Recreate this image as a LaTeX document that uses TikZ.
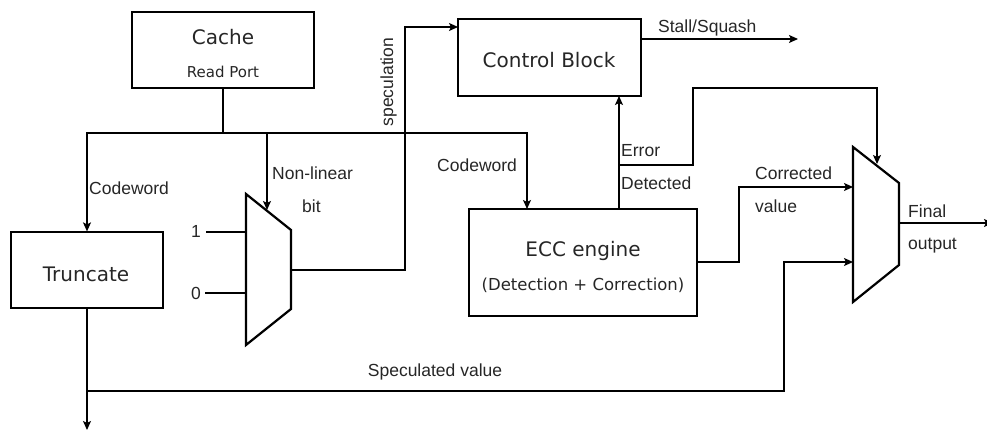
\documentclass[tikz,border=0pt]{standalone}
\usepackage{fontspec}
\newfontfamily\boxfont{DejaVu Sans}
\newfontfamily\lblfont{Liberation Sans}
\usetikzlibrary{arrows.meta,calc}
\tikzset{
  blk/.style={draw=black, line width=1.2pt, rectangle, inner sep=0pt},
  tb/.style={inner sep=0pt, text=black!85, font=\boxfont\fontsize{20}{24}\selectfont},
  tsub/.style={inner sep=0pt, text=black!85, font=\boxfont\fontsize{15}{18}\selectfont},
  tsubb/.style={inner sep=0pt, text=black!85, font=\boxfont\fontsize{16.5}{20}\selectfont},
  lbl/.style={inner sep=0pt, text=black!85, font=\lblfont\fontsize{17.5}{21}\selectfont},
  wire/.style={line width=1.2pt, draw=black},
  muxline/.style={line width=2.2pt, draw=black, line join=miter},
}
\begin{document}
\begin{tikzpicture}[x=1pt,y=-1pt, >={Stealth[length=9pt,width=8pt,inset=2pt]}]
\useasboundingbox (0,0) rectangle (987,438);
% boxes
\node[blk, minimum width=182pt, minimum height=76pt] (cache) at (223,50) {};
\node[blk, minimum width=183pt, minimum height=77pt] (ctrl) at (549.5,57.5) {};
\node[blk, minimum width=152pt, minimum height=76pt] (trunc) at (87,270) {};
\node[blk, minimum width=228pt, minimum height=107pt] (ecc) at (583,262.5) {};
% box texts
\node[tb, anchor=base] (tcache) at (223,45) {Cache};
\node[tsub, anchor=base] (tread) at (223,78) {Read Port};
\node[tb, anchor=base] (tctrl) at (549,68) {Control Block};
\node[tb, anchor=base] (ttrunc) at (86,281) {Truncate};
\node[tb, anchor=base] (tecc) at (583,257) {ECC engine};
\node[tsubb, anchor=base] (tdet) at (583,290) {(Detection + Correction)};
% mux 1
\coordinate (m1tl) at (246,194);
\coordinate (m1tr) at (291,230);
\coordinate (m1br) at (291,309);
\coordinate (m1bl) at (246,345);
\draw[muxline] (m1tl) -- (m1tr) -- (m1br) -- (m1bl) -- cycle;
\coordinate (m1sel) at (267,210);
\coordinate (m1i1) at (246,232);
\coordinate (m1i0) at (246,293);
\coordinate (m1o) at (291,270);
\coordinate (in1) at (206,232);
\coordinate (in0) at (205,293);
% mux 2
\coordinate (m2tl) at (853,147);
\coordinate (m2tr) at (899,183);
\coordinate (m2br) at (899,265);
\coordinate (m2bl) at (853,302);
\draw[muxline] (m2tl) -- (m2tr) -- (m2br) -- (m2bl) -- cycle;
\coordinate (m2sel) at (877,164);
\coordinate (m2i1) at (853,187);
\coordinate (m2i2) at (853,262);
\coordinate (m2o) at (899,223);
\coordinate (outend) at (993,223);
% junctions and ports
\coordinate (j1) at (223,133);
\coordinate (nl) at (267,133);
\coordinate (eccin) at (527,209);
\coordinate (ctrlin) at (458,27);
\coordinate (stallA) at (641,39);
\coordinate (stallB) at (798,39);
\coordinate (errA) at (619,209);
\coordinate (errB) at (619,96);
\coordinate (eb) at (619,165);
\coordinate (corrA) at (697,262);
\coordinate (spj) at (87,391);
\coordinate (truncout) at (87,430);
% wires
\draw[wire] (cache.south) -- (j1);
\draw[wire,->] (j1) -| (trunc.north);
\draw[wire,->] (j1) -| (eccin);
\draw[wire,->] (nl) -- (m1sel);
\draw[wire] (in1) -- (m1i1);
\draw[wire] (in0) -- (m1i0);
\draw[wire,->] (m1o) -- ++(114,0) |- (ctrlin);
\draw[wire,->] (stallA) -- (stallB);
\draw[wire,->] (errA) -- (errB);
\draw[wire,->] (eb) -- ++(74,0) |- ++(184,-77) -- (m2sel);
\draw[wire,->] (corrA) -- ++(42,0) |- (m2i1);
\draw[wire,->] (trunc.south) -- (truncout);
\draw[wire,->] (spj) -- ++(697,0) |- (m2i2);
\draw[wire,->] (m2o) -- (outend);
% labels
\node[lbl, anchor=base west] (lcw1) at (89,195) {Codeword};
\node[lbl, anchor=base west] (lcw2) at (437,172) {Codeword};
\node[lbl, anchor=base west] (lnl) at (272,180) {Non-linear};
\node[lbl, anchor=base west] (lbit) at (302,213) {bit};
\node[lbl, anchor=base, rotate=90] (lspec) at (393,82) {speculation};
\node[lbl, anchor=base west] (lstall) at (658,33) {Stall/Squash};
\node[lbl, anchor=base west] (lerr) at (621,157) {Error};
\node[lbl, anchor=base west] (ldet) at (621,190) {Detected};
\node[lbl, anchor=base west] (lcorr) at (755,180) {Corrected};
\node[lbl, anchor=base west] (lval) at (755,213) {value};
\node[lbl, anchor=base west] (lfin) at (908,218) {Final};
\node[lbl, anchor=base west] (lout) at (908,250) {output};
\node[lbl, anchor=base] (lsv) at (435,376) {Speculated value};
\node[lbl, anchor=base east] (lone) at (201,238) {1};
\node[lbl, anchor=base east] (lzero) at (201,299) {0};
\end{tikzpicture}
\end{document}
